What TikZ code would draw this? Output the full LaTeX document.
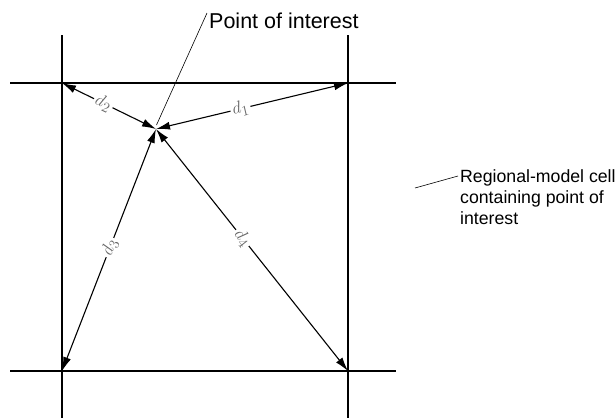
\documentclass[tikz,border=0pt]{standalone}
\usepackage{fontspec}
\setmainfont{Liberation Sans}
\usetikzlibrary{arrows.meta}
\begin{document}
\begin{tikzpicture}[x=1pt,y=-1pt,
  grid/.style={line width=1.7pt},
  dist/.style={line width=1.1pt,{Latex[length=14pt,width=8pt]}-{Latex[length=14pt,width=8pt]}},
  dlab/.style={sloped,fill=white,inner sep=2pt,text=black!60,font=\fontsize{19}{19}\selectfont},
  lbl/.style={font=\fontsize{21.5}{23}\selectfont,inner sep=0pt},
  cellbl/.style={font=\fontsize{17.7}{21}\selectfont,inner sep=0pt,align=left},
  leader/.style={line width=0.6pt}]
\useasboundingbox (0,0) rectangle (615,418);
% grid lines
\coordinate (vlt) at (62,35);  \coordinate (vlb) at (62,418);
\coordinate (vrt) at (348,35); \coordinate (vrb) at (348,418);
\coordinate (htl) at (10,83);  \coordinate (htr) at (396,83);
\coordinate (hbl) at (10,371); \coordinate (hbr) at (396,371);
\draw[grid] (vlt) -- (vlb);
\draw[grid] (vrt) -- (vrb);
\draw[grid] (htl) -- (htr);
\draw[grid] (hbl) -- (hbr);
% corners and point
\coordinate (c1) at (348,83);
\coordinate (c2) at (62,83);
\coordinate (c3) at (62,371);
\coordinate (c4) at (348,371);
\coordinate (P) at (156,129);
% distances
\draw[dist] (P) -- node[dlab,pos=0.44] {$d_1$} (c1);
\draw[dist] (P) -- node[dlab,pos=0.56] {$d_2$} (c2);
\draw[dist] (P) -- node[dlab,pos=0.49] {$d_3$} (c3);
\draw[dist] (P) -- node[dlab,pos=0.45] {$d_4$} (c4);
% labels
\node[lbl,anchor=base west] (poi) at (209,28) {Point of interest};
\coordinate (poiend) at (207,13);
\draw[leader] (P) ++(0.5,-4) -- (poiend);
\node[cellbl,anchor=north west] (cell) at (460,169) {Regional-model cell\\containing point of\\interest};
\coordinate (cellst) at (415,188);
\draw[leader] (cellst) -- (458,176);
\end{tikzpicture}
\end{document}
